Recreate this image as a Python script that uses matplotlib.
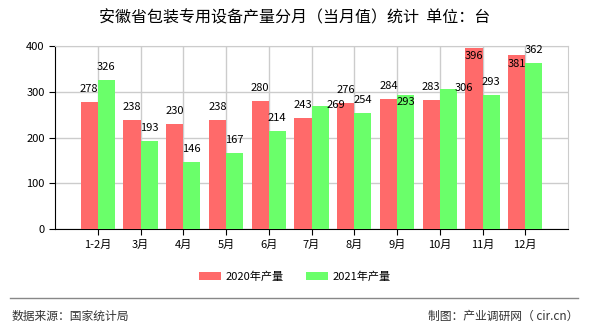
import matplotlib
matplotlib.use('Agg')
import matplotlib.pyplot as plt
import numpy as np

plt.rcParams['font.family'] = ['Noto Sans CJK SC', 'DejaVu Sans']

months = ['1-2月', '3月', '4月', '5月', '6月', '7月', '8月', '9月', '10月', '11月', '12月']
prod2020 = [278, 238, 230, 238, 280, 243, 276, 284, 283, 396, 381]
prod2021 = [326, 193, 146, 167, 214, 269, 254, 293, 306, 293, 362]

# label nudges (pixels) where the original moved labels to avoid overlap
nudge2020 = {9: (0, -8), 10: (0, -9)}
nudge2021 = {5: (16, 1), 7: (0, -7), 8: (16, 1)}

red = '#FF6A6A'
green = '#6AFF6A'

fig = plt.figure(figsize=(5.9, 3.3), dpi=100)
ax = fig.add_axes([55/590, 1-229/330, 513/590, 183/330])

x = np.arange(len(months))
w = 0.4
ax.bar(x - w/2, prod2020, w, color=red, label='2020年产量', zorder=3)
ax.bar(x + w/2, prod2021, w, color=green, label='2021年产量', zorder=3)

for i, v in enumerate(prod2020):
    dx, dy = nudge2020.get(i, (0, 13))
    ax.annotate(str(v), (x[i] - w/2, v), xytext=(dx, dy), textcoords='offset pixels',
                ha='center', va='center', fontsize=8, zorder=5)
for i, v in enumerate(prod2021):
    dx, dy = nudge2021.get(i, (0, 13))
    ax.annotate(str(v), (x[i] + w/2, v), xytext=(dx, dy), textcoords='offset pixels',
                ha='center', va='center', fontsize=8, zorder=5)

ax.set_xlim(-1, 11)
ax.set_ylim(0, 400)
ax.set_yticks([0, 100, 200, 300, 400])
ax.set_xticks(x)
ax.set_xticklabels(months)
ax.tick_params(labelsize=8, length=4, color='black')
ax.grid(True, color='#cccccc', linewidth=1, zorder=0)
for s in ['top', 'right']:
    ax.spines[s].set_color('#cccccc')
for s in ['left', 'bottom']:
    ax.spines[s].set_color('black')

fig.text(0.5, 1-18/330, '安徽省包装专用设备产量分月（当月值）统计  单位：台',
         ha='center', va='center', fontsize=11.5)

fig.legend(loc='center', bbox_to_anchor=(0.5, 1-277/330), ncol=2, frameon=False,
           fontsize=8, handlelength=2.0, handleheight=0.7, columnspacing=2.0,
           handletextpad=0.4)

fig.add_artist(plt.Line2D([10/590, 578/590], [1-298/330, 1-298/330],
                          color='#888888', linewidth=1))
fig.text(12/590, 1-316/330, '数据来源：国家统计局', ha='left', va='center',
         fontsize=8.5, color='#333333')
fig.text(578/590, 1-316/330, '制图：产业调研网（ cir.cn）', ha='right', va='center',
         fontsize=8.5, color='#333333')

fig.savefig('out.png', dpi=100)
